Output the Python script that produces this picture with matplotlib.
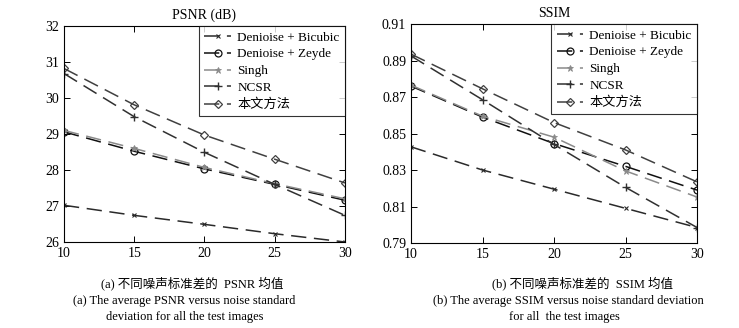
import matplotlib
matplotlib.use("Agg")
import matplotlib.pyplot as plt

noise = [10, 15, 20, 25, 30]
labels = ["Denioise + Bicubic", "Denioise + Zeyde", "Singh", "NCSR", "本文方法"]

psnr_bicubic = [27.02, 26.74, 26.49, 26.23, 26.00]
psnr_zeyde = [29.06, 28.52, 28.03, 27.60, 27.16]
psnr_singh = [29.10, 28.60, 28.07, 27.62, 27.20]
psnr_ncsr = [30.68, 29.48, 28.49, 27.60, 26.74]
psnr_ours = [30.82, 29.81, 28.97, 28.30, 27.64]

ssim_bicubic = [0.8427, 0.8300, 0.8195, 0.8090, 0.7985]
ssim_zeyde = [0.8760, 0.8590, 0.8445, 0.8320, 0.8190]
ssim_singh = [0.8765, 0.8595, 0.8480, 0.8295, 0.8152]
ssim_ncsr = [0.8925, 0.8685, 0.8440, 0.8205, 0.7985]
ssim_ours = [0.8935, 0.8745, 0.8560, 0.8410, 0.8235]

psnr_yticks = [26, 27, 28, 29, 30, 31, 32]
ssim_yticks = [0.79, 0.81, 0.83, 0.85, 0.87, 0.89, 0.91]

styles = [
    dict(color="#2a2a2a", marker="x", ms=3.5, mew=0.8),
    dict(color="#101010", marker="o", ms=5, mfc="none", mew=0.9),
    dict(color="#8a8a8a", marker="*", ms=5, mew=0.6),
    dict(color="#303030", marker="+", ms=6, mew=1.0),
    dict(color="#404040", marker="D", ms=4.5, mfc="none", mew=0.9),
]

serif = ["Liberation Serif", "Noto Sans CJK SC"]
plt.rcParams["font.family"] = serif

fig = plt.figure(figsize=(7.39, 3.28), dpi=100)
ax1 = fig.add_axes([0.0866, 0.2622, 0.3802, 0.6585])
ax2 = fig.add_axes([0.5562, 0.2591, 0.3870, 0.6677])

def draw(ax, series, yticks, title, fmt):
    for vals, lab, st in zip(series, labels, styles):
        ax.plot(noise, vals, linestyle=(0, (10, 5)), lw=1.1, label=lab, **st)
    ax.set_xlim(10, 30)
    ax.set_ylim(yticks[0], yticks[-1])
    ax.set_xticks(noise)
    ax.set_yticks(yticks)
    ax.set_yticklabels([fmt(v) for v in yticks])
    ax.tick_params(direction="in", top=True, right=True, labelsize=10, length=4, width=0.7)
    for s in ax.spines.values():
        s.set_linewidth(0.8)
    ax.set_title(title, fontsize=10, pad=5)
    leg = ax.legend(loc="upper right", frameon=True, fancybox=False,
                    edgecolor="black", handlelength=2.0, borderaxespad=0.0,
                    labelspacing=0.35, handletextpad=0.5, borderpad=0.4,
                    prop={"family": ["Liberation Serif", "Noto Sans CJK SC"], "size": 9.5})
    leg.get_frame().set_linewidth(0.8)

draw(ax1, [psnr_bicubic, psnr_zeyde, psnr_singh, psnr_ncsr, psnr_ours], psnr_yticks,
     "PSNR (dB)", lambda v: f"{v:g}")
draw(ax2, [ssim_bicubic, ssim_zeyde, ssim_singh, ssim_ncsr, ssim_ours], ssim_yticks,
     "SSIM", lambda v: f"{v:.2f}")

cap = dict(ha="center", va="center", fontsize=9, family=serif)
fig.text(192 / 739, 1 - 283 / 328, "(a) 不同噪声标准差的  PSNR 均值", **cap)
fig.text(184 / 739, 1 - 301 / 328, "(a) The average PSNR versus noise standard", **cap)
fig.text(185 / 739, 1 - 317 / 328, "deviation for all the test images", **cap)
fig.text(582 / 739, 1 - 283 / 328, "(b) 不同噪声标准差的  SSIM 均值", **cap)
fig.text(568 / 739, 1 - 301 / 328, "(b) The average SSIM versus noise standard deviation", **cap)
fig.text(564 / 739, 1 - 317 / 328, "for all  the test images", **cap)

fig.savefig("out.png", dpi=100)
